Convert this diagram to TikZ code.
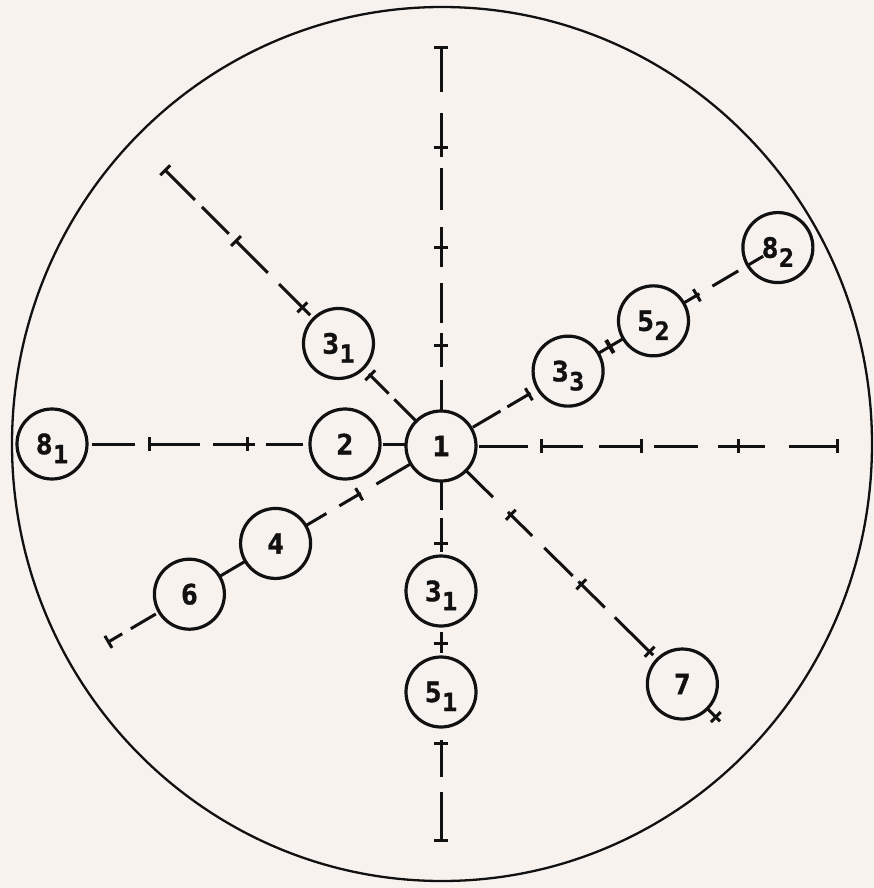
\documentclass[tikz,border=0pt]{standalone}
\usepackage{fontspec}
\newfontfamily\digitfont{DejaVu Sans Mono}[BoldFeatures={FakeBold=1.2}]
\usetikzlibrary{calc}
\definecolor{paper}{HTML}{F7F2EE}
\definecolor{ink}{HTML}{111111}
\newcommand\sublab[2]{#1\smash{\kern0.5pt\raisebox{-9pt}{\fontsize{25}{25}\selectfont #2}}}
% origin, angle, segments a/b, cross ticks
\newcommand\drawray[4]{%
  \foreach \a/\b in {#3} {\draw[rl] ($(#1)+(#2:\a)$) -- ($(#1)+(#2:\b)$);}
  \foreach \t in {#4} {\draw[rl] ($(#1)+(#2:\t)+(#2+90:7)$) -- ($(#1)+(#2:\t)+(#2-90:7)$);}
}
\begin{document}
\begin{tikzpicture}[x=1pt,y=-1pt,
  rl/.style={draw=ink,line width=3pt},
  circ/.style={circle,draw=ink,line width=3.2pt,minimum size=70pt,inner sep=0pt,
    text=ink,font=\digitfont\bfseries\fontsize{28}{28}\selectfont}]
\fill[paper] (0,0) rectangle (874,888);
\useasboundingbox (0,0) rectangle (874,888);
\draw[ink,line width=2.3pt] (442,444) ellipse [x radius=430, y radius=437];

\coordinate (c) at (441,446);
\coordinate (cl) at (441,444);

\node[circ] (n1) at (c) {1};
\node[circ] (n2) at ($(cl)+(180:96)$) {2};
\node[circ] (n81) at ($(cl)+(180:389)$) {\sublab{8}{1}};
\node[circ] (n31u) at ($(c)+(225:145)$) {\sublab{3}{1}};
\node[circ] (n33) at ($(c)+(329.5:147.5)$) {\sublab{3}{3}};
\node[circ] (n52) at ($(c)+(329.5:246.6)$) {\sublab{5}{2}};
\node[circ] (n82) at ($(c)+(329.5:391)$) {\sublab{8}{2}};
\node[circ] (n4) at ($(c)+(149.5:192)$) {4};
\node[circ] (n6) at ($(c)+(149.5:292)$) {6};
\node[circ] (n31d) at ($(c)+(90:145)$) {\sublab{3}{1}};
\node[circ] (n51) at ($(c)+(90:246)$) {\sublab{5}{1}};
\node[circ] (n7) at ($(c)+(44.6:339)$) {7};

% up
\drawray{c}{270}{35/66,79/113,123/163,179/219,236/278,289/333,354/398}{101,199,299,398}
% right
\drawray{c}{0}{38/87,100/142,158/200,213/257,277/324,348/396}{100,200,297,396}
% left
\drawray{cl}{180}{36/58,138/175,186/228,241/292,306/349}{194,292}
% up-left
\drawray{c}{225}{36/66,74/102,185/229,245/290,300/338,348/390}{100,196,290,390}
% up-right
\drawray{c}{329.5}{37/69,77/104,182/211,282/300,315/345,356/374}{102,297}
\draw[ink,line width=4pt] ($(c)+(329.5:196)+(59.5:7.5)$) -- ($(c)+(329.5:196)+(239.5:7.5)$);
% lower-left
\drawray{c}{149.5}{36/75,93/118,133/157,227/257,331/360,370/386}{95,386}
% lower-right
\drawray{c}{44.6}{35/73,94/128,145/185,193/230,244/298,374/392}{98,197,293,386}
% down
\drawray{c}{90}{35/64,72/106,186/207,294/331,346/394}{97,197,297,394}
\end{tikzpicture}
\end{document}
